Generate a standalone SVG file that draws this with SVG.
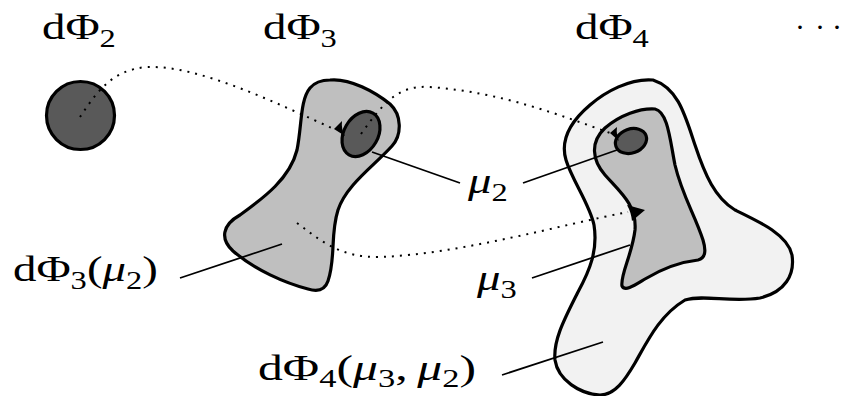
<svg xmlns="http://www.w3.org/2000/svg" width="841" height="396" viewBox="0 0 841 396">
<style>
.out{stroke:#000;stroke-width:3.2;stroke-linejoin:round}
.dark{fill:#595959}
.mid{fill:#bfbfbf}
.light{fill:#f2f2f2}
.dot{fill:none;stroke:#000;stroke-width:2;stroke-dasharray:2 6}
.lead{fill:none;stroke:#000;stroke-width:1.8}
.ah{fill:#000;stroke:none}
text{font-family:"Liberation Serif","Times New Roman",serif;font-size:36px;fill:#000}
.sub{font-size:25px}
.it{font-style:italic}
</style>
<rect width="841" height="396" fill="#fff"/>
<g id="dphi2">
<circle class="out dark" cx="80.5" cy="115.5" r="34"/>
</g>
<g id="dphi3">
<path class="out mid" d="M330,80 C350,78 375,92 390,104 C402,115 402,135 392,146 C375,165 346,185 338,210 C330,235 336,258 328,281 C325,290 318,292 308,289 C285,283 255,270 233,251 C220,239 222,225 240,215 C265,197 290,178 297,150 C302,125 300,100 310,88 C315,82 322,80 330,80 Z"/>
<ellipse class="out dark" cx="361" cy="134" rx="17" ry="24" transform="rotate(30 361 134)"/>
</g>
<g id="dphi4">
<path class="out light" d="M653,80 C630,78 605,92 590,105 C570,122 560,140 566,160 C572,180 590,205 594,225 C598,250 590,270 578,292 C565,318 553,340 555,360 C558,380 580,394 600,395 C615,395 625,380 635,363 C648,340 660,315 685,300 C705,294 730,303 760,298 C785,292 795,275 792,255 C788,235 760,222 735,210 C715,198 705,175 695,145 C685,115 678,88 653,80 Z"/>
<path class="out mid" d="M655,109 C640,108 620,115 605,128 C590,142 592,160 605,175 C620,192 637,205 635,230 C632,255 620,275 622,286 C625,292 635,285 645,279 C660,270 680,262 698,260 C706,258 706,250 703,240 C695,215 682,195 675,165 C670,140 668,112 655,109 Z"/>
<ellipse class="out dark" cx="631" cy="141" rx="16" ry="12" transform="rotate(-20 631 141)"/>
</g>
<g id="connectors">
<path class="dot" d="M80,117 C95,95 110,70 147,67 C200,65 280,105 334,129"/>
<path class="ah" d="M334,129 L342,121 Q341,129 345,136 Z"/>
<path class="dot" d="M361,134 C385,100 400,85 430,87 C500,92 560,115 610,133"/>
<path class="ah" d="M610,133 L617,127 Q616,134 619,141 Z"/>
<path class="dot" d="M297,223 C320,240 340,258 380,257 C460,254 560,225 628,212"/>
<path class="ah" d="M645,210 L627,205 Q631,212 632,221 Z"/>
<line class="lead" x1="282" y1="244" x2="180" y2="278"/>
<line class="lead" x1="372" y1="152" x2="460" y2="183"/>
<line class="lead" x1="523" y1="183" x2="617" y2="150"/>
<line class="lead" x1="630" y1="245" x2="532" y2="278"/>
<line class="lead" x1="603" y1="342" x2="502" y2="375"/>
</g>
<g id="labels">
<text transform="translate(42,39) scale(1.3,1)">dΦ<tspan class="sub" dy="8">2</tspan></text>
<text transform="translate(263,39) scale(1.3,1)">dΦ<tspan class="sub" dy="8">3</tspan></text>
<text transform="translate(575,39) scale(1.3,1)">dΦ<tspan class="sub" dy="8">4</tspan></text>
<text x="795 815 832" y="37" style="font-size:30px">···</text>
<text transform="translate(13,281) scale(1.3,1)">dΦ<tspan class="sub" dy="8">3</tspan><tspan dy="-8">(</tspan><tspan class="it">μ</tspan><tspan class="sub" dy="8">2</tspan><tspan dy="-8">)</tspan></text>
<text transform="translate(468,193) scale(1.3,1)"><tspan class="it">μ</tspan><tspan class="sub" dy="8">2</tspan></text>
<text transform="translate(477,290) scale(1.3,1)"><tspan class="it">μ</tspan><tspan class="sub" dy="8">3</tspan></text>
<text transform="translate(258,380) scale(1.38,1)">dΦ<tspan class="sub" dy="7">4</tspan><tspan dy="-7">(</tspan><tspan class="it">μ</tspan><tspan class="sub" dy="7">3</tspan><tspan dy="-7">,</tspan><tspan class="it" dx="7">μ</tspan><tspan class="sub" dy="7">2</tspan><tspan dy="-7">)</tspan></text>
</g>
</svg>
